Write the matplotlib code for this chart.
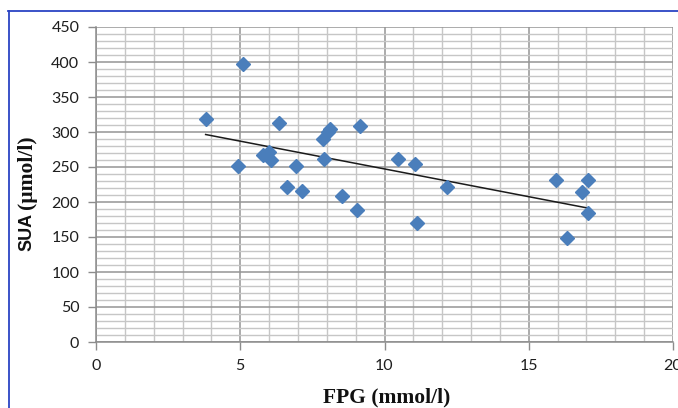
import numpy as np
import matplotlib
matplotlib.use("Agg")
import matplotlib.pyplot as plt
from matplotlib.lines import Line2D
from matplotlib.ticker import MultipleLocator

# Data
fpg = [5.1, 3.8, 6.35, 8.05, 8.1, 7.86, 9.15, 4.93, 5.8, 6.0, 6.05, 6.93, 7.91,
       6.63, 7.13, 8.54, 9.04, 10.46, 11.06, 12.16, 11.14, 15.94, 17.04, 16.86,
       17.04, 16.34]
sua = [397, 318, 313, 300, 305, 290, 308, 251, 267, 272, 260, 251, 261,
       222, 216, 208, 188, 261, 255, 221, 170, 231, 232, 214, 184, 149]
x_ticks = [0, 5, 10, 15, 20]
y_ticks = [0, 50, 100, 150, 200, 250, 300, 350, 400, 450]
x_label = "FPG (mmol/l)"
y_label_a = "SUA"
y_label_b = "(\u00b5mol/l)"

W, H = 678, 408
fig = plt.figure(figsize=(W / 100, H / 100), dpi=100)
fig.patch.set_facecolor("white")

ax = fig.add_axes([96 / W, 1 - 342 / H, (673 - 96) / W, (342 - 27) / H])
ax.set_xlim(0, 20)
ax.set_ylim(0, 450)
ax.set_xticks(x_ticks)
ax.set_yticks(y_ticks)
ax.xaxis.set_minor_locator(MultipleLocator(1))
ax.yaxis.set_minor_locator(MultipleLocator(10))

ax.grid(which="major", color="#959595", linewidth=1.1)
ax.grid(which="minor", color="#c6c6c6", linewidth=1.0)
ax.set_axisbelow(True)

for s in ["top", "right"]:
    ax.spines[s].set_visible(False)
for s in ["left", "bottom"]:
    ax.spines[s].set_color("#8c8c8c")
    ax.spines[s].set_linewidth(1.1)

ax.tick_params(which="major", direction="out", length=6, width=1.0,
               color="#8c8c8c", labelsize=11.5, labelcolor="#1e1e1e", pad=6)
ax.tick_params(which="minor", length=0)
for lab in ax.get_xticklabels() + ax.get_yticklabels():
    lab.set_fontfamily("Lato")

# scatter
ax.plot(fpg, sua, linestyle="none", marker="D", markersize=7,
        color="#4a7ebb", markeredgecolor="#4a7ebb", zorder=3, clip_on=False)

# linear trend line
coef = np.polyfit(fpg, sua, 1)
xs = np.array([min(fpg), max(fpg)])
ax.plot(xs, np.polyval(coef, xs), color="#1a1a1a", linewidth=1.1, zorder=2)

# axis labels
fig.text(387 / W, 1 - 397 / H, x_label, ha="center", va="center",
         fontsize=15.5, fontweight="bold", family="Liberation Serif", color="#111111")
t1 = fig.text(27 / W, 1 - 251 / H, y_label_a, rotation=90, ha="center", va="bottom",
              fontsize=13, fontweight="bold", family="Liberation Sans", color="#111111")
ax.annotate(y_label_b, xy=(0.5, 1.0), xycoords=t1, xytext=(0, 3),
            textcoords="offset points", rotation=90, ha="center", va="bottom",
            fontsize=15.5, fontweight="bold", family="Liberation Serif", color="#111111",
            annotation_clip=False)

# blue frame (top and left)
fig.add_artist(Line2D([8 / W, 1.0], [1 - 10.5 / H, 1 - 10.5 / H],
                      transform=fig.transFigure, color="#2b44c4", linewidth=1.3))
fig.add_artist(Line2D([8.5 / W, 8.5 / W], [0.0, 1 - 10.5 / H],
                      transform=fig.transFigure, color="#2b44c4", linewidth=1.3))

fig.savefig("out.png", dpi=100, facecolor="white")
